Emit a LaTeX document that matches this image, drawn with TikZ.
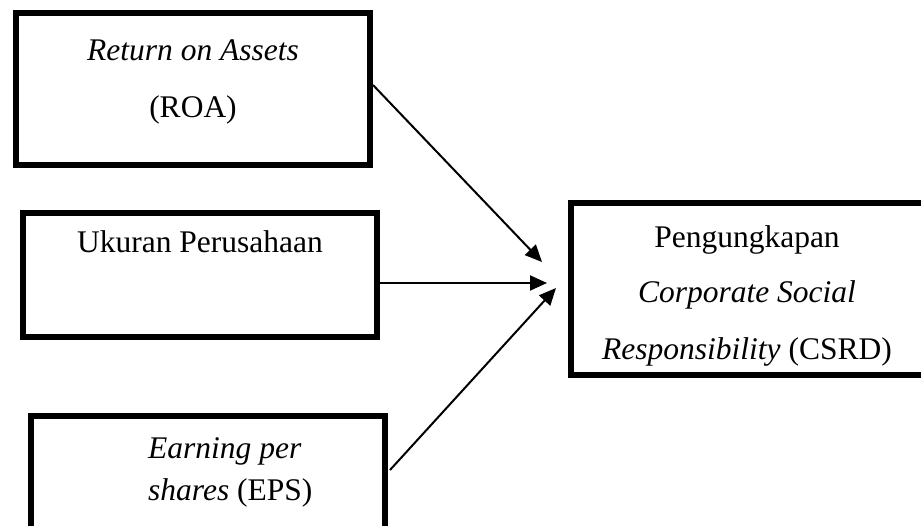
\documentclass[tikz,border=0pt]{standalone}
\usepackage{fontspec}
\setmainfont{Liberation Serif}
\usetikzlibrary{arrows.meta}
\begin{document}
\begin{tikzpicture}[x=1pt,y=-1pt,
  box/.style={draw=black,line width=6pt,rectangle,inner sep=0pt,outer sep=0pt},
  txt/.style={anchor=base,inner sep=0pt,font=\fontsize{31.5}{36}\selectfont},
  arr/.style={-{Triangle[length=17pt,width=15pt]},line width=2pt}]
\clip (0,0) rectangle (921,526);
\fill[white] (0,0) rectangle (921,526);
% boxes
\node[box,minimum width=354pt,minimum height=152pt] (roa) at (193,89) {};
\node[box,minimum width=354pt,minimum height=124pt] (uk) at (200,275) {};
\node[box,minimum width=354pt,minimum height=141pt] (eps) at (208,486.5) {};
\node[box,minimum width=362pt,minimum height=172pt] (csr) at (752,289) {};
% texts
\node[txt] (r1) at (193,61) {\itshape Return on Assets};
\node[txt] (r2) at (193,118) {(ROA)};
\node[txt] (u1) at (200,253) {Ukuran Perusahaan};
\node[txt,anchor=base west] (e1) at (148,458) {\itshape Earning per};
\node[txt,anchor=base west] (e2) at (148,500) {\textit{shares} (EPS)};
\node[txt] (c1) at (747,248) {Pengungkapan};
\node[txt] (c2) at (747,303) {\itshape Corporate Social};
\node[txt] (c3) at (747,360) {\textit{Responsibility} (CSRD)};
% arrow tips
\coordinate (t1) at (542,262);
\coordinate (t2) at (547,283);
\coordinate (t3) at (556,288);
\draw[arr] ([xshift=3pt,yshift=4pt]roa.east) -- (t1);
\draw[arr] ([xshift=3pt,yshift=-8pt]uk.east) -- (t2);
\draw[arr] ([xshift=5pt,yshift=16.5pt]eps.east) -- (t3);
\end{tikzpicture}
\end{document}
